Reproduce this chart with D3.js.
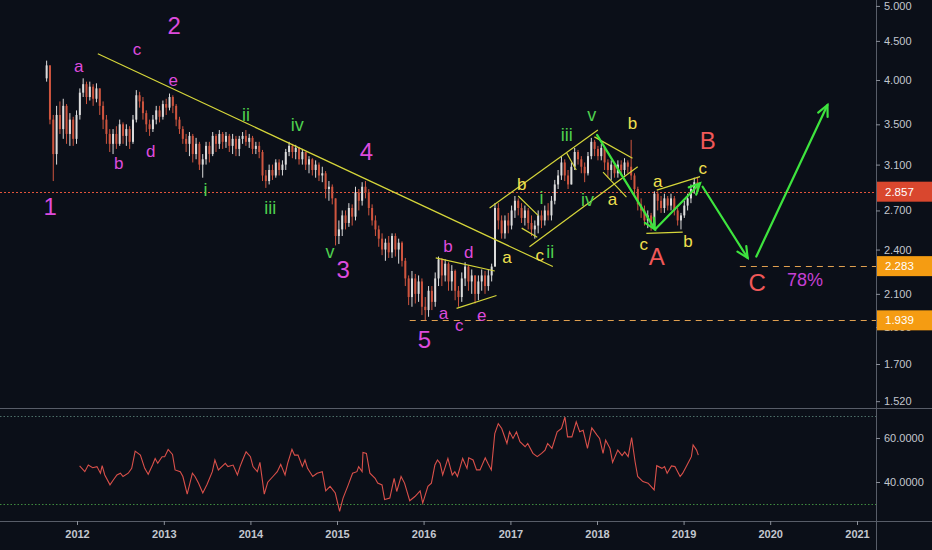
<!DOCTYPE html>
<html>
<head>
<meta charset="utf-8">
<style>
  body { margin: 0; background: #0b0f18; }
  svg { display: block; font-family: "Liberation Sans", Arial, sans-serif; }
  .axis text { fill: #c3c7cf; font-size: 11px; }
</style>
</head>
<body>
<svg width="932" height="550"></svg>
<script src="https://d3js.org/d3.v7.min.js"></script>
<script>
// two-week candles, the first one starting 2011-08-26
const startDate = new Date(2011, 7, 26);
const firstOpen = 4.02;

const closes = [
  4.18, 3.55, 3.20, 3.60, 3.45, 3.70, 3.40, 3.55, 3.35, 3.60,
  3.85, 3.95, 3.80, 3.92, 3.78, 3.90, 3.70, 3.55, 3.40, 3.30,
  3.40, 3.30, 3.50, 3.38, 3.45, 3.32, 3.55, 3.82, 3.75, 3.62,
  3.50, 3.45, 3.55, 3.65, 3.58, 3.72, 3.68, 3.80, 3.70, 3.55,
  3.45, 3.35, 3.30, 3.38, 3.20, 3.30, 3.10, 3.15, 3.28, 3.20,
  3.38, 3.30, 3.40, 3.32, 3.38, 3.28, 3.35, 3.25, 3.35, 3.38,
  3.32, 3.36, 3.25, 3.28, 3.22, 3.00, 2.95, 3.05, 3.00, 3.12,
  3.05, 3.10, 3.22, 3.28, 3.22, 3.26, 3.15, 3.22, 3.10, 3.15,
  3.05, 3.10, 3.00, 3.02, 2.88, 2.90, 2.80, 2.50, 2.55, 2.66,
  2.60, 2.72, 2.65, 2.85, 2.78, 2.90, 2.85, 2.72, 2.62, 2.55,
  2.48, 2.40, 2.45, 2.38, 2.50, 2.40, 2.45, 2.32, 2.20, 2.08,
  2.20, 2.10, 2.18, 2.02, 2.00, 2.12, 2.05, 2.20, 2.33, 2.22,
  2.30, 2.18, 2.25, 2.12, 2.08, 2.20, 2.28, 2.18, 2.22, 2.10,
  2.18, 2.22, 2.15, 2.22, 2.28, 2.72, 2.62, 2.52, 2.62, 2.58,
  2.70, 2.78, 2.72, 2.64, 2.70, 2.60, 2.55, 2.58, 2.66, 2.62,
  2.70, 2.66, 2.78, 2.92, 3.00, 3.12, 3.00, 2.92, 3.08, 3.22,
  3.15, 3.08, 3.02, 3.18, 3.32, 3.25, 3.18, 3.26, 3.12, 3.05,
  3.10, 3.02, 3.10, 3.05, 3.12, 3.08, 3.00, 2.88, 2.75, 2.70,
  2.62, 2.66, 2.58, 2.84, 2.78, 2.72, 2.80, 2.74, 2.80, 2.70,
  2.62, 2.66, 2.74, 2.80, 2.88, 2.94, 2.857
];

const highs = [
  4.24, 4.18, 3.60, 3.70, 3.75, 3.78, 3.72, 3.62, 3.58, 3.65,
  3.90, 4.02, 3.98, 3.98, 3.95, 3.96, 3.90, 3.75, 3.60, 3.45,
  3.45, 3.48, 3.55, 3.52, 3.50, 3.48, 3.60, 3.88, 3.86, 3.80,
  3.65, 3.55, 3.60, 3.70, 3.70, 3.76, 3.78, 3.84, 3.82, 3.72,
  3.58, 3.48, 3.40, 3.42, 3.40, 3.36, 3.32, 3.20, 3.32, 3.32,
  3.42, 3.40, 3.44, 3.42, 3.42, 3.40, 3.40, 3.38, 3.38, 3.42,
  3.44, 3.40, 3.38, 3.32, 3.32, 3.24, 3.05, 3.10, 3.10, 3.15,
  3.15, 3.14, 3.25, 3.32, 3.30, 3.29, 3.27, 3.25, 3.22, 3.18,
  3.16, 3.14, 3.12, 3.08, 3.04, 2.95, 2.92, 2.80, 2.62, 2.70,
  2.70, 2.76, 2.75, 2.90, 2.88, 2.94, 2.95, 2.88, 2.75, 2.66,
  2.58, 2.52, 2.48, 2.50, 2.52, 2.52, 2.48, 2.46, 2.34, 2.22,
  2.25, 2.23, 2.22, 2.20, 2.08, 2.15, 2.15, 2.24, 2.35, 2.34,
  2.33, 2.31, 2.29, 2.26, 2.15, 2.24, 2.31, 2.29, 2.26, 2.22,
  2.22, 2.26, 2.25, 2.26, 2.30, 2.76, 2.76, 2.66, 2.66, 2.68,
  2.74, 2.82, 2.80, 2.76, 2.74, 2.72, 2.66, 2.62, 2.70, 2.70,
  2.74, 2.76, 2.82, 2.96, 3.05, 3.18, 3.15, 3.05, 3.12, 3.26,
  3.24, 3.18, 3.12, 3.22, 3.36, 3.34, 3.28, 3.30, 3.26, 3.15,
  3.14, 3.12, 3.14, 3.14, 3.16, 3.14, 3.34, 3.02, 2.90, 2.80,
  2.74, 2.70, 2.68, 2.86, 2.86, 2.82, 2.84, 2.82, 2.84, 2.82,
  2.72, 2.68, 2.78, 2.84, 2.92, 2.98, 2.98
];

const lows = [
  3.98, 3.50, 2.95, 3.10, 3.40, 3.35, 3.30, 3.28, 3.28, 3.30,
  3.55, 3.80, 3.72, 3.76, 3.70, 3.74, 3.60, 3.45, 3.30, 3.22,
  3.20, 3.25, 3.28, 3.30, 3.28, 3.25, 3.30, 3.52, 3.68, 3.55,
  3.42, 3.38, 3.42, 3.50, 3.52, 3.55, 3.60, 3.65, 3.62, 3.48,
  3.40, 3.30, 3.22, 3.18, 3.12, 3.15, 3.05, 2.98, 3.10, 3.12,
  3.18, 3.22, 3.25, 3.25, 3.26, 3.22, 3.20, 3.18, 3.18, 3.30,
  3.28, 3.26, 3.20, 3.20, 3.16, 2.95, 2.89, 2.92, 2.96, 2.98,
  3.00, 3.00, 3.05, 3.18, 3.16, 3.15, 3.10, 3.10, 3.05, 3.02,
  3.00, 2.98, 2.95, 2.94, 2.80, 2.78, 2.75, 2.43, 2.44, 2.50,
  2.55, 2.57, 2.58, 2.62, 2.70, 2.74, 2.80, 2.66, 2.58, 2.50,
  2.42, 2.36, 2.32, 2.34, 2.34, 2.35, 2.30, 2.28, 2.15, 2.03,
  2.02, 2.04, 2.05, 1.97, 1.94, 1.96, 2.00, 2.02, 2.15, 2.15,
  2.18, 2.12, 2.12, 2.06, 2.02, 2.05, 2.15, 2.12, 2.10, 2.04,
  2.06, 2.12, 2.10, 2.12, 2.18, 2.28, 2.55, 2.48, 2.48, 2.52,
  2.55, 2.64, 2.66, 2.60, 2.58, 2.55, 2.50, 2.48, 2.52, 2.56,
  2.58, 2.62, 2.62, 2.75, 2.88, 2.96, 2.95, 2.88, 2.92, 3.05,
  3.10, 3.02, 2.94, 3.00, 3.15, 3.18, 3.14, 3.14, 3.05, 2.98,
  2.96, 2.98, 2.98, 3.00, 3.00, 3.02, 2.96, 2.82, 2.70, 2.64,
  2.58, 2.56, 2.54, 2.56, 2.70, 2.68, 2.68, 2.70, 2.70, 2.66,
  2.58, 2.55, 2.64, 2.70, 2.76, 2.84, 2.84
];

// RSI readings: [decimal year, value]
const rsiPoints = [
  [2012.03, 47.3], [2012.09, 44.7], [2012.13, 47.7], [2012.18, 46.5], [2012.23, 47.0],
  [2012.27, 44.0], [2012.29, 47.4], [2012.32, 43.2], [2012.38, 38.7], [2012.42, 41.0],
  [2012.46, 43.2], [2012.50, 44.0], [2012.53, 42.5], [2012.59, 44.0], [2012.63, 46.2],
  [2012.67, 54.0], [2012.73, 52.2], [2012.78, 46.2], [2012.82, 43.5], [2012.87, 47.7],
  [2012.90, 50.7], [2012.93, 48.5], [2012.98, 51.5], [2013.01, 51.5], [2013.05, 54.8],
  [2013.10, 52.5], [2013.13, 45.5], [2013.19, 44.7], [2013.22, 42.5], [2013.27, 34.5],
  [2013.33, 44.0], [2013.36, 42.5], [2013.40, 39.5], [2013.45, 35.0], [2013.50, 39.0],
  [2013.56, 44.7], [2013.59, 50.0], [2013.63, 45.5], [2013.67, 47.0], [2013.71, 48.5],
  [2013.74, 47.0], [2013.80, 47.7], [2013.85, 43.2], [2013.88, 47.0], [2013.91, 50.0],
  [2013.95, 53.7], [2014.00, 51.5], [2014.03, 47.0], [2014.08, 44.7], [2014.11, 48.9],
  [2014.16, 34.5], [2014.20, 39.9], [2014.26, 42.5], [2014.31, 44.7], [2014.35, 48.0],
  [2014.40, 43.2], [2014.43, 48.5], [2014.48, 54.8], [2014.51, 52.2], [2014.55, 52.2],
  [2014.60, 47.0], [2014.63, 50.0], [2014.66, 46.2], [2014.72, 42.5], [2014.77, 44.0],
  [2014.83, 44.7], [2014.87, 36.0], [2014.92, 38.0], [2014.98, 35.0], [2015.03, 26.7],
  [2015.07, 32.7], [2015.13, 38.7], [2015.18, 44.0], [2015.23, 44.7], [2015.25, 47.0],
  [2015.29, 44.7], [2015.30, 53.4], [2015.34, 53.0], [2015.38, 44.0], [2015.44, 41.7],
  [2015.47, 39.5], [2015.52, 38.7], [2015.55, 32.0], [2015.61, 32.7], [2015.66, 41.7],
  [2015.69, 35.7], [2015.74, 42.5], [2015.78, 39.5], [2015.84, 31.5], [2015.90, 33.4],
  [2015.96, 36.0], [2015.99, 30.4], [2016.05, 38.0], [2016.09, 39.5], [2016.13, 47.7],
  [2016.16, 50.0], [2016.19, 48.5], [2016.22, 43.2], [2016.28, 50.7], [2016.33, 43.2],
  [2016.36, 44.7], [2016.39, 42.5], [2016.45, 50.7], [2016.50, 46.2], [2016.52, 51.0],
  [2016.57, 50.0], [2016.61, 45.5], [2016.65, 45.5], [2016.71, 51.0], [2016.74, 48.5],
  [2016.78, 45.5], [2016.82, 62.0], [2016.86, 66.5], [2016.90, 64.3], [2016.96, 57.5],
  [2016.99, 62.8], [2017.03, 59.8], [2017.07, 62.8], [2017.11, 58.3], [2017.17, 56.0],
  [2017.20, 57.5], [2017.26, 53.0], [2017.31, 51.5], [2017.36, 53.0], [2017.40, 54.5],
  [2017.43, 57.5], [2017.48, 55.3], [2017.54, 62.8], [2017.59, 64.3], [2017.63, 69.5],
  [2017.66, 60.5], [2017.71, 60.5], [2017.76, 67.3], [2017.80, 62.8], [2017.84, 63.5],
  [2017.89, 55.3], [2017.94, 64.6], [2018.00, 61.3], [2018.03, 59.8], [2018.07, 53.0],
  [2018.10, 59.0], [2018.15, 55.3], [2018.18, 48.9], [2018.24, 54.5], [2018.29, 52.0],
  [2018.32, 53.7], [2018.36, 51.5], [2018.40, 60.2], [2018.44, 49.2], [2018.47, 42.5],
  [2018.53, 40.2], [2018.59, 39.5], [2018.66, 36.4], [2018.69, 47.4], [2018.75, 46.2],
  [2018.78, 47.0], [2018.81, 44.0], [2018.86, 47.3], [2018.90, 47.0], [2018.96, 42.5],
  [2018.99, 44.0], [2019.04, 47.7], [2019.09, 51.5], [2019.11, 56.8], [2019.15, 54.5],
  [2019.17, 52.2]
];

const priceTicks = [5, 4.5, 4, 3.5, 3.1, 2.7, 2.4, 2.1, 1.9, 1.7, 1.52];
const rsiTicks = [60, 40];
const rsiBands = [70, 30];
const years = [2012, 2013, 2014, 2015, 2016, 2017, 2018, 2019, 2020, 2021];

const lastPrice = 2.857;
// horizontal target levels: [start (decimal year), price]
const levels = [[2015.84, 1.939], [2019.65, 2.283]];

// wave labels: [decimal year, price, text, kind]
const waveLabels = [
  [2011.69, 2.73, "1", "major"], [2013.12, 4.72, "2", "major"], [2015.07, 2.26, "3", "major"],
  [2015.34, 3.22, "4", "major"], [2016.01, 1.83, "5", "major"],
  [2012.02, 4.16, "a", "minor"], [2012.48, 3.11, "b", "minor"], [2012.69, 4.38, "c", "minor"],
  [2012.85, 3.22, "d", "minor"], [2013.11, 3.99, "e", "minor"],
  [2016.28, 2.42, "b", "minor"], [2016.52, 2.38, "d", "minor"], [2016.23, 1.98, "a", "minor"],
  [2016.41, 1.91, "c", "minor"], [2016.67, 1.97, "e", "minor"],
  [2013.95, 3.60, "ii", "green"], [2014.54, 3.49, "iv", "green"], [2013.48, 2.87, "i", "green"],
  [2014.23, 2.72, "iii", "green"], [2014.92, 2.38, "v", "green"],
  [2017.65, 3.39, "iii", "green"], [2017.94, 3.60, "v", "green"], [2017.36, 2.80, "i", "green"],
  [2017.89, 2.79, "iv", "green"], [2017.46, 2.38, "ii", "green"],
  [2016.96, 2.34, "a", "yellow"], [2017.13, 2.92, "b", "yellow"], [2017.34, 2.36, "c", "yellow"],
  [2018.41, 3.51, "b", "yellow"], [2018.18, 2.79, "a", "yellow"],
  [2018.70, 2.95, "a", "yellow"], [2018.54, 2.44, "c", "yellow"], [2019.05, 2.46, "b", "yellow"],
  [2019.22, 3.06, "c", "yellow"],
  [2018.69, 2.35, "A", "red"], [2019.28, 3.33, "B", "red"], [2019.85, 2.17, "C", "red"],
  [2020.40, 2.19, "78%", "pct"]
];

// yellow trend lines: [t1, p1, t2, p2]
const trendLines = [
  [2012.24, 4.33, 2017.49, 2.28],
  [2016.14, 2.34, 2016.82, 2.25],
  [2016.38, 2.01, 2016.84, 2.09],
  [2016.76, 2.72, 2018.01, 3.44],
  [2017.22, 2.42, 2018.47, 3.08],
  [2017.09, 2.82, 2017.32, 2.66],
  [2017.13, 2.56, 2017.31, 2.49],
  [2017.65, 3.21, 2017.76, 3.05],
  [2017.97, 3.37, 2018.41, 3.16],
  [2018.07, 3.03, 2018.34, 2.81],
  [2018.57, 2.52, 2018.99, 2.53],
  [2018.69, 2.87, 2019.19, 2.99]
];

// projected path arrows
const arrows = [
  [2018.00, 3.39, 2018.67, 2.55],
  [2018.67, 2.55, 2019.19, 2.93],
  [2019.22, 2.90, 2019.74, 2.34],
  [2019.84, 2.35, 2020.66, 3.71]
];

const width = 932, height = 550;
const axisX = 876, mainBottom = 408, rsiBottom = 521;

const labelStyle = {
  major:  { fill: "#dd4bdd", size: 24 },
  minor:  { fill: "#dd4bdd", size: 17 },
  green:  { fill: "#4fd04f", size: 18 },
  yellow: { fill: "#f0e04e", size: 17 },
  red:    { fill: "#f05858", size: 24 },
  pct:    { fill: "#c640d4", size: 18 }
};

function fromYear(t) {
  const y0 = Math.floor(t);
  const a = new Date(y0, 0, 1), b = new Date(y0 + 1, 0, 1);
  return new Date(+a + (t - y0) * (b - a));
}

const svg = d3.select("svg");

svg.append("rect")
  .attr("width", width).attr("height", height)
  .attr("fill", "#0b0f18");

const x = d3.scaleTime()
  .domain([new Date(2012, 0, 1), new Date(2021, 0, 1)])
  .range([77, 857]);

const y = d3.scaleLog()
  .domain([1.489, 5.09])
  .range([mainBottom, 0]);

const yr = d3.scaleLinear()
  .domain([22.3, 73.6])
  .range([rsiBottom, mainBottom]);

svg.append("clipPath").attr("id", "main-clip")
  .append("rect").attr("width", axisX).attr("height", mainBottom);

svg.append("clipPath").attr("id", "rsi-clip")
  .append("rect").attr("y", mainBottom).attr("width", axisX).attr("height", rsiBottom - mainBottom);

// candles
const candles = closes.map((c, i) => {
  const o = i ? closes[i - 1] : firstOpen;
  return {
    date: d3.timeDay.offset(startDate, 14 * i),
    o: o,
    h: Math.max(highs[i], o, c),
    l: Math.min(lows[i], o, c),
    c: c
  };
});

const main = svg.append("g").attr("clip-path", "url(#main-clip)");

// last price line
const lastY = Math.round(y(lastPrice)) + 0.5;
main.append("line")
  .attr("x1", 0).attr("x2", axisX)
  .attr("y1", lastY).attr("y2", lastY)
  .attr("stroke", "#e2543b")
  .attr("stroke-width", 1)
  .attr("stroke-dasharray", "2,2");

// target levels
main.selectAll(".level")
  .data(levels)
  .join("line")
  .attr("class", "level")
  .attr("x1", d => x(fromYear(d[0])))
  .attr("x2", axisX)
  .attr("y1", d => Math.round(y(d[1])) + 0.5)
  .attr("y2", d => Math.round(y(d[1])) + 0.5)
  .attr("stroke", "#e0a050")
  .attr("stroke-width", 1.2)
  .attr("stroke-dasharray", "6,5");

const candleG = main.append("g")
  .selectAll("g")
  .data(candles)
  .join("g")
  .attr("stroke", d => d.c >= d.o ? "#dcdcdc" : "#cf553f")
  .attr("fill", d => d.c >= d.o ? "#dcdcdc" : "#cf553f");

candleG.append("line")
  .attr("x1", d => x(d.date)).attr("x2", d => x(d.date))
  .attr("y1", d => y(d.h)).attr("y2", d => y(d.l))
  .attr("stroke-width", 1);

candleG.append("rect")
  .attr("stroke", "none")
  .attr("x", d => x(d.date) - 1)
  .attr("width", 2)
  .attr("y", d => y(Math.max(d.o, d.c)))
  .attr("height", d => Math.max(1, Math.abs(y(d.o) - y(d.c))));

// yellow trend lines
main.selectAll(".trend")
  .data(trendLines)
  .join("line")
  .attr("class", "trend")
  .attr("x1", d => x(fromYear(d[0]))).attr("y1", d => y(d[1]))
  .attr("x2", d => x(fromYear(d[2]))).attr("y2", d => y(d[3]))
  .attr("stroke", "#d6d63a")
  .attr("stroke-width", 1.2);

// green arrows
const arrowG = main.selectAll(".arrow")
  .data(arrows)
  .join("g")
  .attr("class", "arrow")
  .attr("stroke", "#3ee43e")
  .attr("stroke-width", 2.2)
  .attr("fill", "none")
  .attr("stroke-linecap", "round");

arrowG.append("line")
  .attr("x1", d => x(fromYear(d[0]))).attr("y1", d => y(d[1]))
  .attr("x2", d => x(fromYear(d[2]))).attr("y2", d => y(d[3]));

arrowG.append("path")
  .attr("d", d => {
    const x1 = x(fromYear(d[0])), y1 = y(d[1]);
    const x2 = x(fromYear(d[2])), y2 = y(d[3]);
    const a = Math.atan2(y2 - y1, x2 - x1);
    const len = 12, spread = 0.45;
    const p1 = [x2 - len * Math.cos(a - spread), y2 - len * Math.sin(a - spread)];
    const p2 = [x2 - len * Math.cos(a + spread), y2 - len * Math.sin(a + spread)];
    return `M${p1[0]},${p1[1]}L${x2},${y2}L${p2[0]},${p2[1]}`;
  });

// wave labels
svg.append("g")
  .selectAll("text")
  .data(waveLabels)
  .join("text")
  .attr("x", d => x(fromYear(d[0])))
  .attr("y", d => y(d[1]))
  .attr("text-anchor", "middle")
  .attr("dominant-baseline", "central")
  .attr("fill", d => labelStyle[d[3]].fill)
  .style("font-size", d => labelStyle[d[3]].size + "px")
  .text(d => d[2]);

// RSI panel
const rsi = svg.append("g").attr("clip-path", "url(#rsi-clip)");

rsi.selectAll(".band")
  .data(rsiBands)
  .join("line")
  .attr("class", "band")
  .attr("x1", 0).attr("x2", axisX)
  .attr("y1", d => Math.round(yr(d)) + 0.5).attr("y2", d => Math.round(yr(d)) + 0.5)
  .attr("stroke", (d, i) => i === 0 ? "#4d6f68" : "#3f8a3f")
  .attr("stroke-width", 1)
  .attr("stroke-dasharray", "1.5,2");

rsi.append("path")
  .datum(rsiPoints)
  .attr("fill", "none")
  .attr("stroke", "#d9504a")
  .attr("stroke-width", 1.1)
  .attr("d", d3.line()
    .x(d => x(fromYear(d[0])))
    .y(d => yr(d[1])));

// frame lines
svg.append("line")
  .attr("x1", 0).attr("x2", width)
  .attr("y1", mainBottom + 0.5).attr("y2", mainBottom + 0.5)
  .attr("stroke", "#585d68");

svg.append("line")
  .attr("x1", 0).attr("x2", width)
  .attr("y1", rsiBottom + 0.5).attr("y2", rsiBottom + 0.5)
  .attr("stroke", "#585d68");

svg.append("line")
  .attr("x1", axisX + 0.5).attr("x2", axisX + 0.5)
  .attr("y1", 0).attr("y2", height)
  .attr("stroke", "#585d68");

// price axis
const priceAxis = svg.append("g")
  .attr("class", "axis")
  .attr("transform", `translate(${axisX},0)`)
  .call(d3.axisRight(y)
    .tickValues(priceTicks)
    .tickFormat(d3.format(".3f"))
    .tickSize(4)
    .tickPadding(4));

const rsiAxis = svg.append("g")
  .attr("class", "axis")
  .attr("transform", `translate(${axisX},0)`)
  .call(d3.axisRight(yr)
    .tickValues(rsiTicks)
    .tickFormat(d3.format(".4f"))
    .tickSize(4)
    .tickPadding(4));

const timeAxis = svg.append("g")
  .attr("class", "axis")
  .attr("transform", `translate(0,${rsiBottom})`)
  .call(d3.axisBottom(x)
    .tickValues(years.map(yv => new Date(yv, 0, 1)))
    .tickFormat(d3.timeFormat("%Y"))
    .tickSize(4)
    .tickPadding(5));

[priceAxis, rsiAxis, timeAxis].forEach(g => {
  g.select(".domain").remove();
  g.selectAll(".tick line").attr("stroke", "#8a8f99");
});
timeAxis.selectAll("text").style("font-weight", "bold");

// price tags on the axis
const tags = [
  { v: lastPrice, fill: "#d9472e" },
  { v: levels[1][1], fill: "#f59c12" },
  { v: levels[0][1], fill: "#f59c12" }
];

const tagG = svg.append("g")
  .selectAll("g")
  .data(tags)
  .join("g")
  .attr("transform", d => `translate(${axisX + 1},${y(d.v)})`);

tagG.append("rect")
  .attr("x", 0).attr("y", -10)
  .attr("width", width - axisX - 1).attr("height", 20)
  .attr("fill", d => d.fill);

tagG.append("text")
  .attr("x", 8)
  .attr("dominant-baseline", "central")
  .attr("fill", "#ffffff")
  .style("font-size", "11.5px")
  .text(d => d3.format(".3f")(d.v));
</script>
</body>
</html>
